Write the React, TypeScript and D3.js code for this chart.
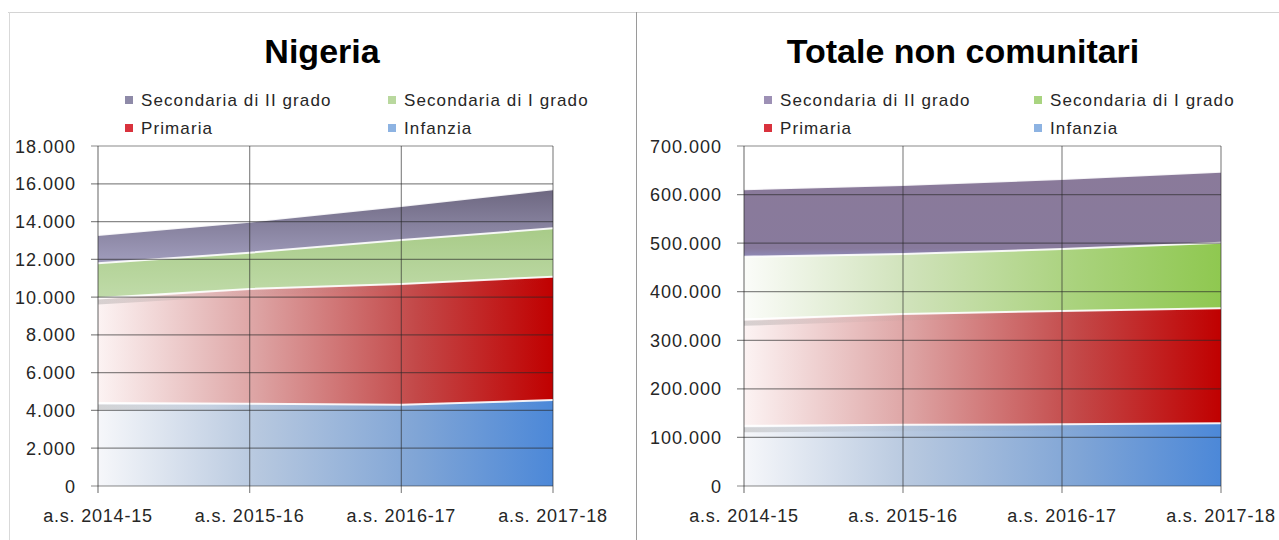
import * as d3 from 'd3'

const years = ['a.s. 2014-15', 'a.s. 2015-16', 'a.s. 2016-17', 'a.s. 2017-18']
const seriesNames = ['Infanzia', 'Primaria', 'Secondaria di I grado', 'Secondaria di II grado']

// Nigeria
const nigeriaInfanzia = [4400, 4350, 4300, 4550]
const nigeriaPrimaria = [5550, 6080, 6400, 6530]
const nigeriaSecI = [1840, 1920, 2320, 2560]
const nigeriaSecII = [1500, 1640, 1800, 2070]
const nigeriaTicks = [0, 2000, 4000, 6000, 8000, 10000, 12000, 14000, 16000, 18000]

// Totale non comunitari
const totaleInfanzia = [124000, 126000, 127000, 129000]
const totalePrimaria = [219100, 228100, 233300, 236800]
const totaleSecI = [129000, 123500, 127600, 135200]
const totaleSecII = [138700, 142100, 144100, 146100]
const totaleTicks = [0, 100000, 200000, 300000, 400000, 500000, 600000, 700000]

const it = d3.formatLocale({ decimal: ',', thousands: '.', grouping: [3], currency: ['€', ''] })
const fmt = it.format(',d')

const FONT = '"Liberation Sans", Arial, sans-serif'
const Y0 = 486
const Y1 = 146

type Grad = { dir: 'h' | 'v'; stops: [number, string][] }

const blueGrad: Grad = { dir: 'h', stops: [[0, '#f6f7fa'], [0.35, '#b7c8df'], [0.7, '#80a5d6'], [1, '#4c88d8']] }
const redGrad: Grad = { dir: 'h', stops: [[0, '#fcf3f3'], [0.35, '#dda3a3'], [0.7, '#c34848'], [1, '#c00000']] }

const nigeriaFills: Grad[] = [
  blueGrad,
  redGrad,
  { dir: 'v', stops: [[0, '#a8cb88'], [1, '#c0dba9']] },
  { dir: 'v', stops: [[0, '#6d6780'], [1, '#a19dbd']] },
]
const totaleFills: Grad[] = [
  blueGrad,
  redGrad,
  { dir: 'h', stops: [[0, '#fbfcf9'], [0.35, '#cfe2b9'], [0.7, '#a9d27c'], [1, '#8fc850']] },
  { dir: 'v', stops: [[0, '#8a7a9a'], [0.9, '#887a9c'], [1, '#8f8ab8']] },
]

type PanelProps = {
  id: string
  title: string
  titleX: number
  x0: number
  x1: number
  yMax: number
  ticks: number[]
  values: number[][]
  fills: Grad[]
  legendCols: [number, number]
  legendColors: string[]
}

function Panel(p: PanelProps) {
  const x = d3.scalePoint<string>().domain(years).range([p.x0, p.x1])
  const y = d3.scaleLinear().domain([0, p.yMax]).range([Y0, Y1])

  const rows = years.map((yr, i) => {
    const r: any = { year: yr }
    seriesNames.forEach((s, k) => (r[s] = p.values[k][i]))
    return r
  })
  const stacked = d3.stack<any>().keys(seriesNames)(rows)

  const area = d3.area<any>()
    .x(d => x(d.data.year)!)
    .y0(d => y(d[0]))
    .y1(d => y(d[1]))
  const top = d3.line<any>()
    .x(d => x(d.data.year)!)
    .y(d => y(d[1]))

  const legendItems = [
    { name: seriesNames[3], col: 0, row: 0, color: p.legendColors[3] },
    { name: seriesNames[2], col: 1, row: 0, color: p.legendColors[2] },
    { name: seriesNames[1], col: 0, row: 1, color: p.legendColors[1] },
    { name: seriesNames[0], col: 1, row: 1, color: p.legendColors[0] },
  ]

  return (
    <g>
      <defs>
        {p.fills.map((g, k) => (
          <linearGradient key={k} id={`${p.id}-g${k}`}
            x1="0" y1="0" x2={g.dir === 'h' ? 1 : 0} y2={g.dir === 'v' ? 1 : 0}>
            {g.stops.map(([o, c], j) => <stop key={j} offset={o} stopColor={c} />)}
          </linearGradient>
        ))}
        <linearGradient id={`${p.id}-shadow`} x1="0" y1="0" x2="1" y2="0">
          <stop offset={0} stopColor="#808080" stopOpacity={0.3} />
          <stop offset={0.25} stopColor="#808080" stopOpacity={0.06} />
          <stop offset={1} stopColor="#808080" stopOpacity={0} />
        </linearGradient>
      </defs>

      <text x={p.titleX} y={63} textAnchor="middle" fontFamily={FONT} fontWeight="bold" fontSize={34} fill="#000">
        {p.title}
      </text>

      {legendItems.map(it => (
        <g key={it.name}>
          <rect x={p.legendCols[it.col]} y={96 + it.row * 28} width={8} height={8} fill={it.color} />
          <text x={p.legendCols[it.col] + 16} y={106 + it.row * 28} fontFamily={FONT} fontSize={17}
            letterSpacing={1.1} fill="#262626">
            {it.name}
          </text>
        </g>
      ))}

      {stacked.map((s, k) => (
        <path key={k} d={area(s)!} fill={`url(#${p.id}-g${k})`} />
      ))}
      {stacked.slice(0, 2).map((s, k) => (
        <path key={'sh' + k} d={top(s)!} transform="translate(0,4)" fill="none"
          stroke={`url(#${p.id}-shadow)`} strokeWidth={5} />
      ))}
      {stacked.map((s, k) => (
        <path key={'t' + k} d={top(s)!} fill="none" stroke="#fff" strokeWidth={2} strokeOpacity={0.9} />
      ))}

      {p.ticks.map(t => (
        <line key={'h' + t} x1={p.x0 - 7} x2={p.x1} y1={y(t)} y2={y(t)}
          stroke="#282828" strokeOpacity={0.55} strokeWidth={1.2} />
      ))}
      {years.map((yr, i) => (
        <line key={'v' + yr} x1={x(yr)} x2={x(yr)} y1={Y1} y2={Y0 + 7}
          stroke="#282828" strokeOpacity={i === 0 ? 0.6 : 0.55} strokeWidth={1.2} />
      ))}

      {p.ticks.map(t => (
        <text key={'yl' + t} x={p.x0 - 22} y={y(t) + 6.5} textAnchor="end" fontFamily={FONT}
          fontSize={18} letterSpacing={1} fill="#262626">
          {fmt(t)}
        </text>
      ))}
      {years.map(yr => (
        <text key={'xl' + yr} x={x(yr)} y={522} textAnchor="middle" fontFamily={FONT}
          fontSize={18} letterSpacing={0.8} fill="#262626">
          {yr}
        </text>
      ))}
    </g>
  )
}

export default function App() {
  return (
    <svg width={1279} height={540} style={{ position: 'absolute', left: 0, top: 0, background: '#fff' }}>
      <rect width={1279} height={540} fill="#fff" />
      <line x1={8} x2={1279} y1={12.5} y2={12.5} stroke="#d4d4d4" />
      <line x1={9.5} x2={9.5} y1={12} y2={540} stroke="#d9d9d9" />
      <line x1={636.5} x2={636.5} y1={12} y2={540} stroke="#9a9a9a" />
      <Panel id="ng" title="Nigeria" titleX={322} x0={98} x1={553} yMax={18000} ticks={nigeriaTicks}
        values={[nigeriaInfanzia, nigeriaPrimaria, nigeriaSecI, nigeriaSecII]} fills={nigeriaFills}
        legendCols={[125, 388]} legendColors={['#8db3e2', '#d9323d', '#b9d89e', '#8e8aa8']} />
      <Panel id="tot" title="Totale non comunitari" titleX={963} x0={744} x1={1221} yMax={700000} ticks={totaleTicks}
        values={[totaleInfanzia, totalePrimaria, totaleSecI, totaleSecII]} fills={totaleFills}
        legendCols={[764, 1034]} legendColors={['#8db3e2', '#d9323d', '#a9d480', '#9d90b5']} />
    </svg>
  )
}
